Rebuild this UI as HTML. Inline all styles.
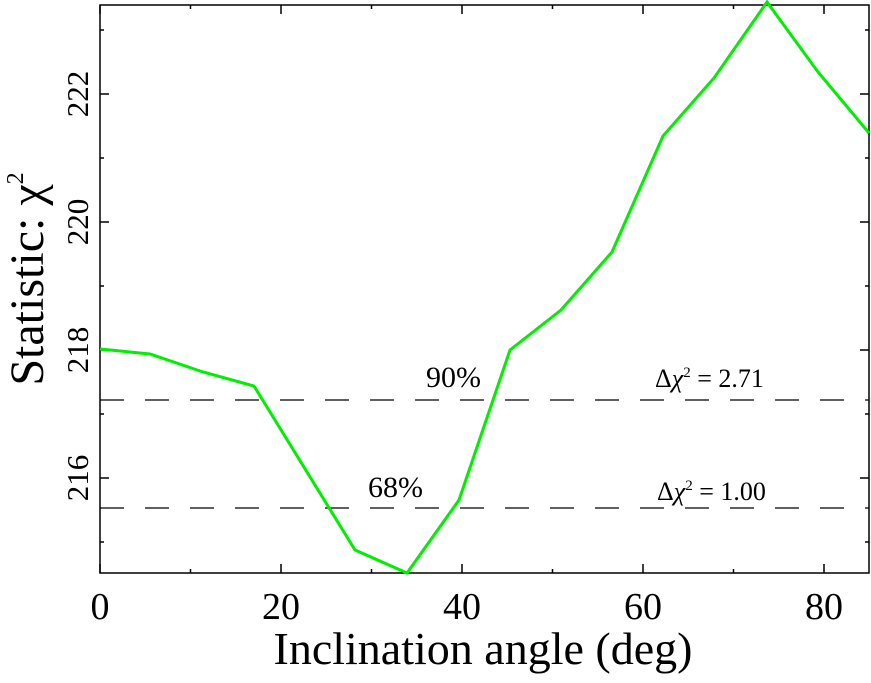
<!DOCTYPE html>
<html><head><meta charset="utf-8"><style>
html,body{margin:0;padding:0;background:#fff;}
svg{display:block;font-family:"Liberation Serif",serif;}
</style></head><body>
<svg width="871" height="683" viewBox="0 0 871 683" xmlns="http://www.w3.org/2000/svg">
<g stroke="#000" stroke-width="1.5" fill="none">
<rect x="100" y="5" width="769" height="568"/>
<path d="M100 573v-9M281 573v-9M462 573v-9M643 573v-9M824 573v-9
M190.5 573v-4M371.5 573v-4M552.5 573v-4M733.5 573v-4
M100 5v9M281 5v9M462 5v9M643 5v9M824 5v9
M190.5 5v4M371.5 5v4M552.5 5v4M733.5 5v4"/>
<path d="M100 94h9M100 222h9M100 350h9M100 478h9
M100 30h4M100 158h4M100 286h4M100 414h4M100 542h4
M869 94h-9M869 222h-9M869 350h-9M869 478h-9
M869 30h-4M869 158h-4M869 286h-4M869 414h-4M869 542h-4"/>
</g>
<g stroke="#000" stroke-width="1.3" stroke-dasharray="24 21">
<line x1="100" y1="400" x2="869" y2="400"/>
<line x1="100" y1="508" x2="869" y2="508"/>
</g>
<polyline fill="none" stroke="#00ee00" stroke-width="3" stroke-linejoin="miter"
points="100,349 150,354 203,372 254,386 355,550 407,573 459,500 510,350 561,310 612,252 663,136 714,78 767,2 818,72 869,133"/>
<g font-size="38" text-anchor="middle">
<text x="100" y="619">0</text>
<text x="281" y="619">20</text>
<text x="462" y="619">40</text>
<text x="643" y="619">60</text>
<text x="824" y="619">80</text>
</g>
<g font-size="31" text-anchor="middle">
<text transform="translate(88,94) rotate(-90)">222</text>
<text transform="translate(88,222) rotate(-90)">220</text>
<text transform="translate(88,350) rotate(-90)">218</text>
<text transform="translate(88,478) rotate(-90)">216</text>
</g>
<text x="483" y="664" font-size="46" text-anchor="middle">Inclination angle (deg)</text>
<text transform="translate(43,279) rotate(-90)" font-size="48" text-anchor="middle">Statistic: χ<tspan font-size="24" dy="-20">2</tspan></text>
<text x="426" y="387" font-size="30">90%</text>
<text x="368" y="497" font-size="30">68%</text>
<text x="655" y="387" font-size="26">Δ<tspan font-style="italic">χ</tspan><tspan font-size="15" dy="-10">2</tspan><tspan dy="10"> = 2.71</tspan></text>
<text x="657" y="500" font-size="26">Δ<tspan font-style="italic">χ</tspan><tspan font-size="15" dy="-10">2</tspan><tspan dy="10"> = 1.00</tspan></text>
</svg>
</body></html>
